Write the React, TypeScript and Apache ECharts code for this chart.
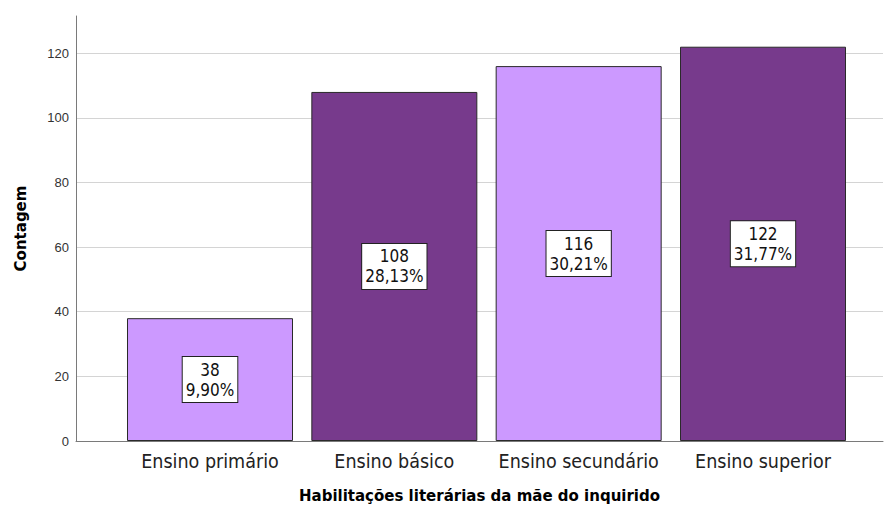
import React, { useEffect, useRef } from "react";
import * as echarts from "echarts";

const categories = ["Ensino primário", "Ensino básico", "Ensino secundário", "Ensino superior"];
const counts = [38, 108, 116, 122];
const percents = ["9,90%", "28,13%", "30,21%", "31,77%"];
const barColors = ["#CC99FF", "#773A8C", "#CC99FF", "#773A8C"];
const yTicks = [0, 20, 40, 60, 80, 100, 120];

export default function App() {
  const ref = useRef<HTMLDivElement>(null);
  useEffect(() => {
    document.body.style.margin = "0";
    if (!ref.current) return;
    const chart = echarts.init(ref.current, undefined, { renderer: "svg" });
    const cond = "DejaVu Sans Condensed, DejaVu Sans, sans-serif";
    const bold = "DejaVu Sans, sans-serif";
    chart.setOption({
      animation: false,
      backgroundColor: "#ffffff",
      grid: { left: 76, right: 1, top: 16, bottom: 66, outerBoundsMode: "none", containLabel: false },
      xAxis: {
        type: "value",
        min: -0.727,
        max: 3.651,
        name: "Habilitações literárias da mãe do inquirido",
        nameLocation: "middle",
        nameGap: 47,
        nameTextStyle: { fontFamily: bold, fontWeight: "bold", fontSize: 15, color: "#000" },
        axisLine: { show: true, onZero: false, lineStyle: { color: "#7a7a7a", width: 1 } },
        axisTick: { show: false },
        splitLine: { show: false },
        axisLabel: {
          show: true,
          margin: 10,
          fontFamily: cond,
          fontSize: 19.5,
          color: "#222",
          showMinLabel: false,
          showMaxLabel: false,
          formatter: (v: number) => (Number.isInteger(v) && v >= 0 && v < categories.length ? categories[v] : ""),
        },
      },
      yAxis: {
        type: "value",
        min: 0,
        max: 131.5,
        interval: 20,
        name: "Contagem",
        nameLocation: "middle",
        nameGap: 48,
        nameTextStyle: { fontFamily: bold, fontWeight: "bold", fontSize: 15, color: "#000" },
        axisLine: { show: true, onZero: false, lineStyle: { color: "#7a7a7a", width: 1 } },
        axisTick: { show: false },
        splitLine: { show: true, showMaxLine: false, lineStyle: { color: "#d4d4d4", width: 1 } },
        axisLabel: {
          margin: 7,
          fontFamily: "Liberation Sans, Arial, sans-serif",
          fontSize: 13,
          color: "#333",
          showMaxLabel: false,
          formatter: (v: number) => (yTicks.includes(v) ? String(v) : ""),
        },
      },
      series: [
        {
          type: "bar",
          barWidth: 166,
          data: counts.map((c, i) => ({
            value: [i, c],
            itemStyle: { color: barColors[i], borderColor: "#2a2a2a", borderWidth: 1 },
          })),
          label: {
            show: true,
            position: "inside",
            formatter: (p: any) => `${counts[p.dataIndex]}\n${percents[p.dataIndex]}`,
            fontFamily: cond,
            fontSize: 17,
            lineHeight: 20,
            color: "#111",
            backgroundColor: "#ffffff",
            borderColor: "#222",
            borderWidth: 1,
            padding: [3, 3, 2, 3],
            align: "center",
          },
        },
      ],
    });
    return () => chart.dispose();
  }, []);
  return <div ref={ref} style={{ width: 884, height: 507 }} />;
}
